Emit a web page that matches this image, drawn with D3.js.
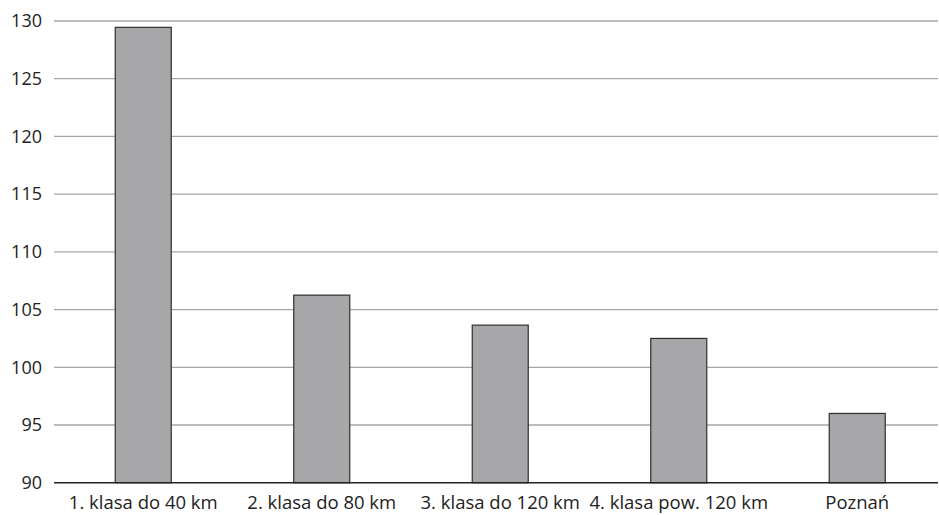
<!DOCTYPE html>
<html><head><meta charset="utf-8">
<script src="https://cdn.jsdelivr.net/npm/d3@7"></script>
<style>body{margin:0;background:#fff}svg{display:block}text{font-family:"Open Sans",sans-serif;fill:#222}</style>
</head><body><svg id="c" width="939" height="515"></svg>
<script>
const categories = ["1. klasa do 40 km","2. klasa do 80 km","3. klasa do 120 km","4. klasa pow. 120 km","Poznań"];
const values = [129.45, 106.25, 103.65, 102.5, 96.0];
const yTicks = [90,95,100,105,110,115,120,125,130];

(function(){
const svg = d3.select("#c");
const mLeft = 54, mRight = 938, mTop = 21, mBottom = 482.7;
const x = d3.scaleBand().domain(categories).range([mLeft, mLeft + 178.5*5]).paddingInner(0).paddingOuter(0);
const y = d3.scaleLinear().domain([90,130]).range([mBottom, mTop]);
const bw = 56;

const grid = svg.append("g");
grid.selectAll("line").data(yTicks.filter(t=>t>90)).join("line")
  .attr("x1", mLeft).attr("x2", mRight)
  .attr("y1", d=>y(d)).attr("y2", d=>y(d))
  .attr("stroke", "#a6a6a6").attr("stroke-width", 1.3);

svg.append("g").selectAll("rect").data(values).join("rect")
  .attr("x", (d,i)=>x(categories[i]) + x.bandwidth()/2 - bw/2)
  .attr("width", bw)
  .attr("y", d=>y(d))
  .attr("height", d=>y(90)-y(d))
  .attr("fill", "#a7a7aa").attr("stroke", "#2e2e2e").attr("stroke-width", 1.2);

svg.append("line").attr("x1", mLeft).attr("x2", mRight).attr("y1", y(90)).attr("y2", y(90))
  .attr("stroke", "#222").attr("stroke-width", 1.4);

const yAxis = d3.axisLeft(y).tickValues(yTicks).tickSize(0).tickPadding(12);
const ga = svg.append("g").attr("transform", `translate(${mLeft},0)`).call(yAxis);
ga.select(".domain").remove();
ga.selectAll("text").attr("font-size", 18).style("font-family","'Open Sans',sans-serif").attr("fill","#222");

const xAxis = d3.axisBottom(x).tickSize(0);
const gx = svg.append("g").attr("transform", `translate(0,${mBottom})`).call(xAxis);
gx.select(".domain").remove();
gx.selectAll("text").attr("y", 26.3).attr("dy", 0).attr("font-size", 18.5).style("font-family","'Open Sans',sans-serif").attr("fill","#222");
})();
</script></body></html>
